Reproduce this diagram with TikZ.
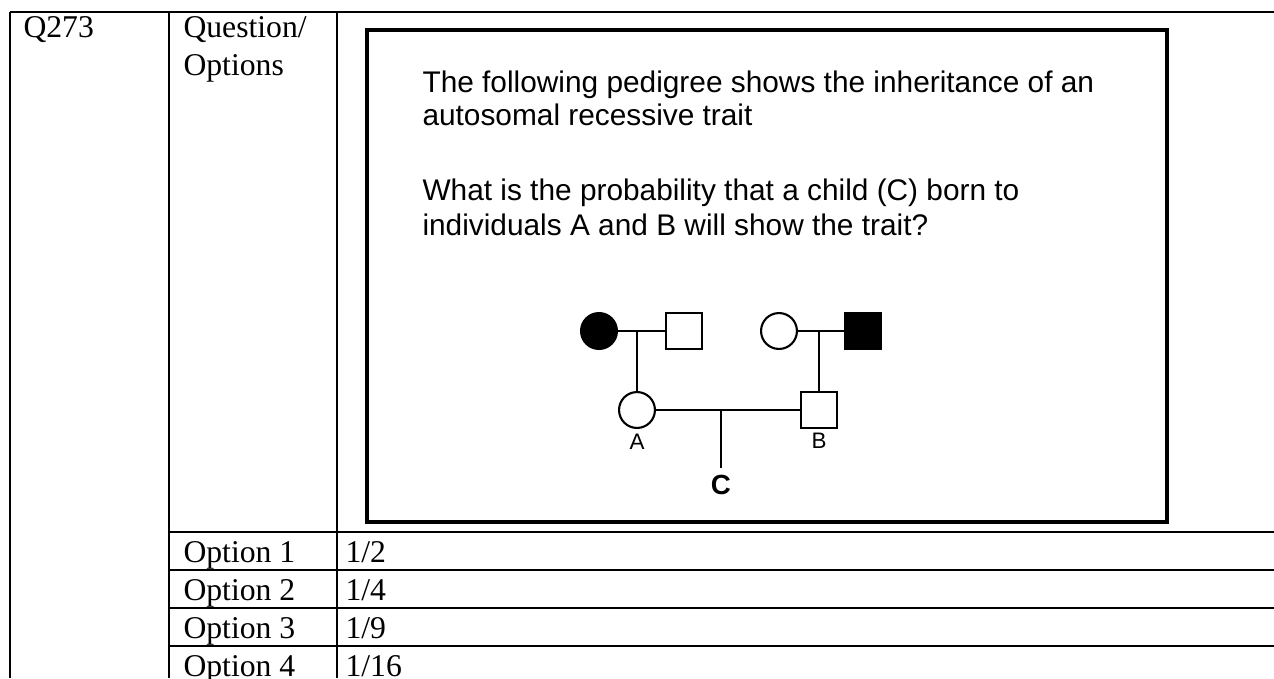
\documentclass[tikz,border=0pt]{standalone}
\usepackage{fontspec}
\setmainfont{Liberation Serif}
\newfontfamily\slidefont{Liberation Sans}
\usetikzlibrary{positioning}
\tikzset{gridline/.style={
        draw,
        line width=1.05pt
}}
\tikzset{cell/.style={
        anchor=base west,
        inner sep=0pt,
        font=\fontsize{12}{14.4}\selectfont
}}
\tikzset{slidetext/.style={
        anchor=base west,
        inner sep=0pt,
        font=\slidefont\fontsize{11.3}{13}\selectfont
}}
\tikzset{female/.style={
        draw,
        circle,
        line width=0.8pt,
        minimum size=13.6pt,
        inner sep=0pt
}}
\tikzset{male/.style={
        draw,
        rectangle,
        line width=0.8pt,
        minimum size=13.6pt,
        inner sep=0pt
}}
\tikzset{affected/.style={fill=black}}
\tikzset{tag/.style={inner sep=0pt,font=\slidefont\fontsize{8.5}{10}\selectfont}}
\tikzset{lineage/.style={draw,line width=0.8pt}}

\begin{document}
\begin{tikzpicture}[x=0.3788pt,y=-0.3788pt]
\useasboundingbox (0,0) rectangle (1274,678);

% table rules
\draw[gridline] (10,12) -- (1274,12);
\draw[gridline] (10,12) -- (10,678);
\draw[gridline] (169,12) -- (169,678);
\draw[gridline] (337,12) -- (337,678);
\foreach \y in {532,570,608,646}
  \draw[gridline] (169,\y) -- (1274,\y);

% table texts
\node[cell] (qid) at (23,37) {Q273};
\node[cell] (qhead) at (183,37) {Question/};
\node[cell] (ohead) at (183,75) {Options};
\foreach \i/\n/\d in {1/1/2,2/1/4,3/1/9,4/1/16}{
  \node[cell] (opt\i) at (183,{524+38*\i}) {Option \i};
  \node[cell] (val\i) at (345,{524+38*\i}) {\n/\d};
}

% slide frame
\draw[black!45,line width=1pt] (368,31) rectangle (1168,523);
\draw[line width=1.2pt] (367,30) rectangle (1167,522);

\node[slidetext] (stem1) at (422,92) {The following pedigree shows the inheritance of an};
\node[slidetext] (stem2) at (422,125) {autosomal recessive trait};
\node[slidetext] (ask1) at (422,200) {What is the probability that a child (C) born to};
\node[slidetext] (ask2) at (422,235) {individuals A and B will show the trait?};

% pedigree
\node[female, affected] (gm1) at (599,331) {};
\node[male] (gf1) at (684,331) {};
\node[female] (gm2) at (779,331) {};
\node[male, affected] (gf2) at (863,331) {};
\node[female] (A) at (637,410) {};
\node[male] (B) at (819,410) {};

\coordinate (j1) at (A |- gm1);
\coordinate (j2) at (B |- gm2);
\coordinate (j3) at (721,410);
\coordinate (cend) at (721,468);

\draw[lineage] (gm1) -- (gf1);
\draw[lineage] (gm2) -- (gf2);
\draw[lineage] (j1) -- (A);
\draw[lineage] (j2) -- (B);
\draw[lineage] (A) -- (B);
\draw[lineage] (j3) -- (cend);

\node[tag, below=1.6pt of A] (labA) {A};
\node[tag, below=1.2pt of B] (labB) {B};
\node[tag, below=2.6pt of cend, font=\slidefont\bfseries\fontsize{10.5}{12}\selectfont] (labC) {C};
\end{tikzpicture}
\end{document}
